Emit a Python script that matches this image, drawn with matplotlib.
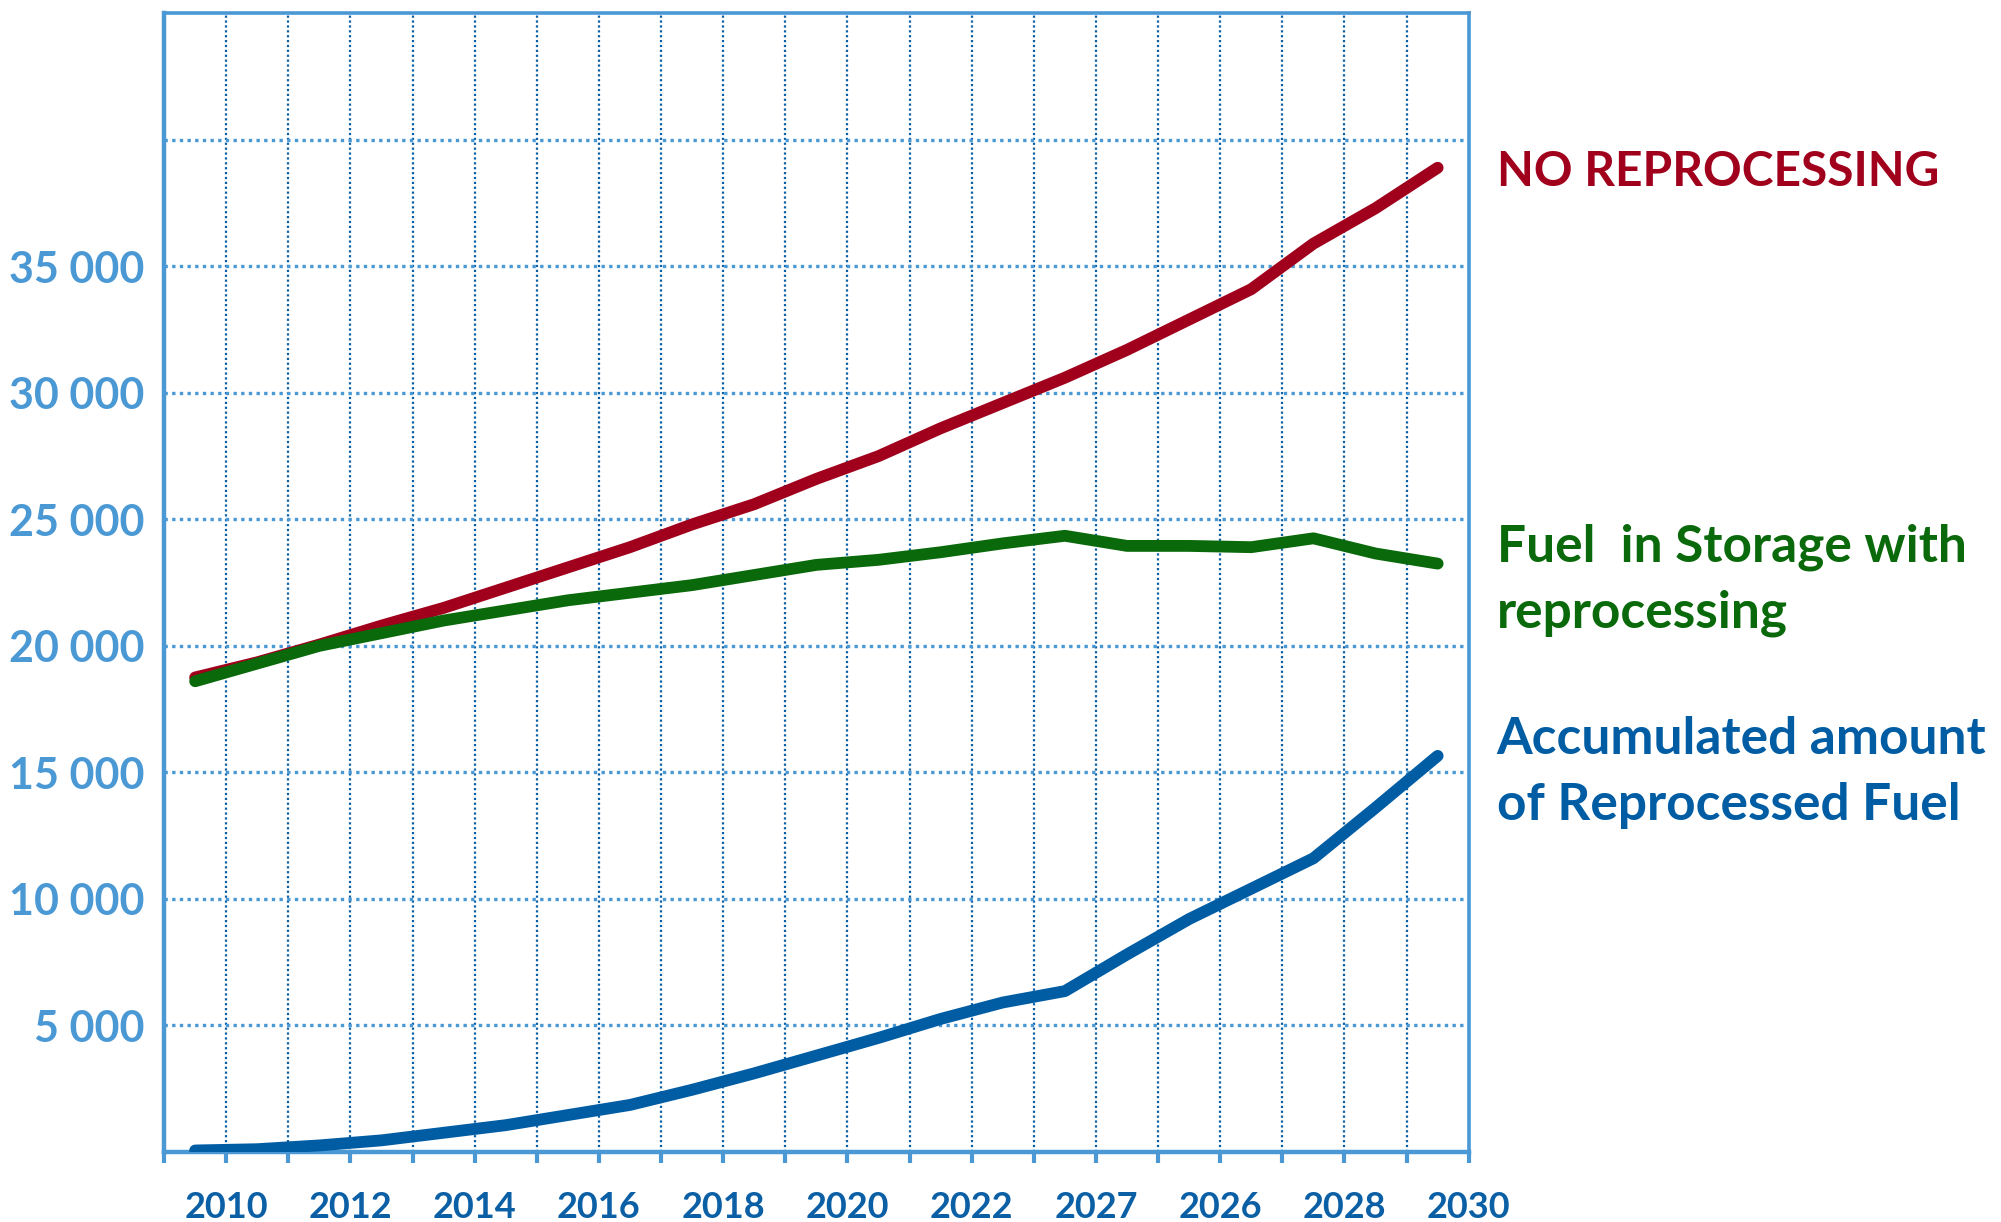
import numpy as np
import matplotlib.pyplot as plt

# category labels (every second boundary is labelled, as in the original)
year_labels = ["2010", "2012", "2014", "2016", "2018", "2020",
               "2022", "2027", "2026", "2028", "2030"]

no_reprocessing = [18750, 19350, 20050, 20800, 21500, 22300, 23100, 23900,
                   24800, 25600, 26600, 27500, 28600, 29600, 30600, 31700,
                   32900, 34100, 35900, 37300, 38900]
storage_with_reproc = [18600, 19300, 20000, 20500, 21000, 21400, 21800, 22100,
                       22400, 22800, 23200, 23400, 23700, 24050, 24350, 23950,
                       23950, 23900, 24250, 23650, 23250]
reprocessed_fuel = [50, 100, 250, 450, 750, 1050, 1450, 1850, 2450, 3100,
                    3800, 4500, 5250, 5900, 6350, 7800, 9200, 10400, 11600,
                    13600, 15650]

y_ticks = [5000, 10000, 15000, 20000, 25000, 30000, 35000]
y_tick_labels = ["5 000", "10 000", "15 000", "20 000", "25 000", "30 000", "35 000"]

RED = "#A0001C"
GREEN = "#0A690A"
BLUE = "#005CA3"
LIGHT_BLUE = "#4A98D4"
DARK_BLUE = "#0B5FA5"

plt.rcParams["font.family"] = ["Lato", "DejaVu Sans"]
plt.rcParams["font.weight"] = "bold"

fig = plt.figure(figsize=(20.01, 12.22), dpi=100)
ax = fig.add_axes([0.082, 0.0575, 0.652, 0.9315])

n = len(no_reprocessing)
x = np.arange(n) + 0.5

# grid
for xv in range(1, n + 1):
    ax.axvline(xv, color=DARK_BLUE, linewidth=1.6, linestyle=(0, (1, 1.2)), zorder=1)
for yv in range(5000, 45000, 5000):
    ax.axhline(yv, color=LIGHT_BLUE, linewidth=2.4, linestyle=(0, (1, 1.3)), zorder=1)

for series, col in [(no_reprocessing, RED), (storage_with_reproc, GREEN),
                    (reprocessed_fuel, BLUE)]:
    ax.plot(x, series, color=col, linewidth=8.5, solid_capstyle="round",
            solid_joinstyle="round", zorder=3)

ax.set_xlim(0, n)
ax.set_ylim(0, 45000)

ax.set_xticks(range(0, n + 1))
ax.set_xticklabels([""] + [year_labels[(i - 1) // 2] if i % 2 == 1 else "" for i in range(1, n + 1)])
ax.tick_params(axis="x", length=8, width=3, color=LIGHT_BLUE, direction="out",
               pad=20, labelsize=26, labelcolor=DARK_BLUE)

ax.set_yticks(y_ticks)
ax.set_yticklabels(y_tick_labels)
ax.tick_params(axis="y", length=0, pad=14, labelsize=31, labelcolor=LIGHT_BLUE)

for spine in ["left", "bottom"]:
    ax.spines[spine].set_color(LIGHT_BLUE)
    ax.spines[spine].set_linewidth(3.2)
for spine in ["top", "right"]:
    ax.spines[spine].set_color(LIGHT_BLUE)
    ax.spines[spine].set_linewidth(2.6)

# series labels at the right
fig.text(0.748, 0.859, "NO REPROCESSING", color=RED, fontsize=34.5,
         fontweight="bold", va="center", ha="left")
fig.text(0.748, 0.525, "Fuel  in Storage with\nreprocessing", color=GREEN,
         fontsize=37, fontweight="bold", va="center", ha="left", linespacing=1.5)
fig.text(0.748, 0.368, "Accumulated amount\nof Reprocessed Fuel", color=BLUE,
         fontsize=37, fontweight="bold", va="center", ha="left", linespacing=1.5)

fig.savefig("out.png", dpi=100)
